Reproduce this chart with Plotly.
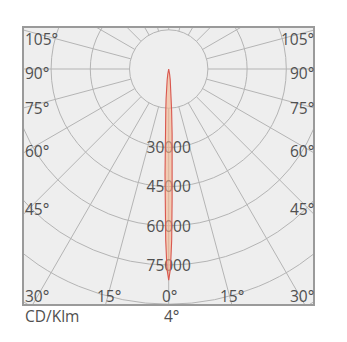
import numpy as np
import plotly.graph_objects as go

# ---------------- data ----------------
# luminous intensity distribution (cd/klm), symmetric beam, half-plane angles in degrees
beam_angles = [0, 0.5, 1, 1.5, 2, 2.5, 3, 4, 5, 6, 7, 8, 10, 12, 15, 20]
beam_intensity = [80800, 76500, 65500, 50000, 40400, 31500, 25000, 16000,
                  11500, 8500, 6000, 4200, 2000, 900, 300, 0]

ring_values = [15000, 30000, 45000, 60000, 75000, 90000, 105000]
ring_labels = ["30000", "45000", "60000", "75000"]
ring_label_values = [30000, 45000, 60000, 75000]
spoke_angles = list(range(0, 360, 15))

side_labels = ["105°", "90°", "75°", "60°", "45°"]
bottom_labels = ["30°", "15°", "0°", "15°", "30°"]
unit_label = "CD/Klm"
beam_label = "4°"

# ---------------- geometry (pixels) ----------------
W, H = 347, 342
ML, MR, MT, MB = 24, 34, 28, 38
PX_PER_UNIT = 39.2 / 15000.0
CX, CY = 168.7, 69.0  # pole position in pixels

x_range = [-(CX - ML) / PX_PER_UNIT, (W - MR - CX) / PX_PER_UNIT]
y_range = [-(H - MB - CY) / PX_PER_UNIT, (CY - MT) / PX_PER_UNIT]
PW, PH = W - ML - MR, H - MT - MB

def px_x(px):
    return (px - ML) / PW

def px_y(py):
    return (H - MB - py) / PH

GRID = "#b4b4b4"
TXT = "#505050"
FONT = "Open Sans"
FS = 15.5
LABEL_DROP = 2.0 / PX_PER_UNIT  # ring labels sit ~2px below their ring

fig = go.Figure()

# ring value labels (under the beam)
fig.add_trace(go.Scatter(
    x=[0] * len(ring_label_values), y=[-(v + LABEL_DROP) for v in ring_label_values],
    text=ring_labels, mode="text", textposition="middle center",
    textfont=dict(family=FONT, size=FS, color=TXT),
    hoverinfo="skip", showlegend=False, cliponaxis=False))

# beam curve
ang = np.array([-a for a in beam_angles[::-1]] + beam_angles[1:], dtype=float)
inten = np.array(beam_intensity[::-1] + beam_intensity[1:], dtype=float)
th = np.radians(ang)
fig.add_trace(go.Scatter(
    x=inten * np.sin(th), y=-inten * np.cos(th),
    mode="lines", fill="toself",
    fillcolor="rgba(244,180,140,0.6)",
    line=dict(color="#d9574f", width=1.1),
    hoverinfo="skip", showlegend=False))

shapes = []
for r in ring_values:
    shapes.append(dict(type="circle", xref="x", yref="y", x0=-r, x1=r, y0=-r, y1=r,
                       line=dict(color=GRID, width=1), layer="below"))
r_in, r_out = ring_values[0], 300000
for a in spoke_angles:
    t = np.radians(a)
    shapes.append(dict(type="line", xref="x", yref="y",
                       x0=r_in * np.sin(t), y0=-r_in * np.cos(t),
                       x1=r_out * np.sin(t), y1=-r_out * np.cos(t),
                       line=dict(color=GRID, width=1), layer="below"))

annotations = []
side_y_px = [39, 72.5, 108, 150, 208]
for lab, py in zip(side_labels, side_y_px):
    annotations.append(dict(x=0, y=px_y(py + 0.5), xref="paper", yref="paper", text=lab,
                            showarrow=False, xanchor="left", yanchor="middle", xshift=-1,
                            font=dict(family=FONT, size=FS, color=TXT)))
    annotations.append(dict(x=1, y=px_y(py + 0.5), xref="paper", yref="paper", text=lab,
                            showarrow=False, xanchor="right", yanchor="middle", xshift=3,
                            font=dict(family=FONT, size=FS, color=TXT)))
bottom_x_px = [None, 109, 169.5, 232, None]
for i, lab in enumerate(bottom_labels):
    if i == 0:
        a = dict(x=0, xanchor="left", xshift=-1)
    elif i == len(bottom_labels) - 1:
        a = dict(x=1, xanchor="right", xshift=3)
    else:
        a = dict(x=px_x(bottom_x_px[i]), xanchor="center")
    a.update(y=px_y(296), xref="paper", yref="paper", text=lab, showarrow=False,
             yanchor="middle", font=dict(family=FONT, size=FS, color=TXT))
    annotations.append(a)

annotations.append(dict(x=0, y=px_y(316), xref="paper", yref="paper", text=unit_label,
                        showarrow=False, xanchor="left", yanchor="middle", xshift=-1,
                        font=dict(family=FONT, size=FS, color=TXT)))
annotations.append(dict(x=px_x(172), y=px_y(316), xref="paper", yref="paper", text=beam_label,
                        showarrow=False, xanchor="center", yanchor="middle",
                        font=dict(family=FONT, size=FS, color=TXT)))

axis_common = dict(showgrid=False, zeroline=False, showticklabels=False, ticks="",
                   showline=True, mirror=True, linecolor="#9a9a9a", linewidth=1.5,
                   fixedrange=True)
fig.update_layout(
    width=W, height=H,
    margin=dict(l=ML, r=MR, t=MT, b=MB, pad=0),
    paper_bgcolor="white", plot_bgcolor="#eeeeee",
    xaxis=dict(range=x_range, **axis_common),
    yaxis=dict(range=y_range, **axis_common),
    shapes=shapes, annotations=annotations, showlegend=False,
)

fig.write_html("out.html", config={"displayModeBar": False})
